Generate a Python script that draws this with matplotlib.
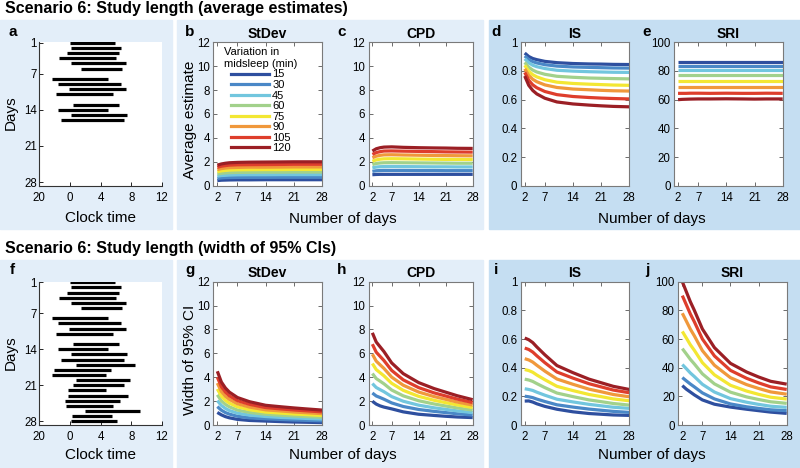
import matplotlib
matplotlib.use("Agg")
import matplotlib.pyplot as plt
from matplotlib.lines import Line2D
from matplotlib.patches import Rectangle

plt.rcParams['font.family'] = ['Liberation Sans', 'DejaVu Sans']

W, H = 800, 468

# sleep episodes, hours relative to midnight (days 7 and 12 missing)
sleep_day = [1, 2, 3, 4, 5, 6, 8, 9, 10, 11, 13, 14, 15, 16, 17, 18, 19, 20,
             21, 22, 23, 24, 25, 26, 27, 28]
sleep_on = [0.0, 0.2, -0.4, -1.4, 0.1, 1.4, -2.25, -1.5, -0.15, -1.85, 0.4, -1.5,
            0.1, -1.2, 0.8, -2.1, -2.35, 0.75, 0.45, -0.2, -0.25, -0.6, -0.45,
            2.0, 0.3, 0.15]
sleep_off = [5.9, 6.7, 6.45, 6.0, 7.3, 6.85, 4.95, 6.65, 7.3, 5.65, 6.4, 4.95,
             7.5, 7.0, 8.55, 5.4, 4.7, 7.85, 7.05, 4.75, 7.55, 6.6, 5.65, 9.15,
             5.5, 6.2]

variation = [15, 30, 45, 60, 75, 90, 105, 120]
line_colors = ['#2e4f9f', '#4a88c7', '#72c6de', '#a2d18b',
               '#f3e733', '#f0983b', '#de3e2c', '#9b1f25']

n_days = [2, 3, 4, 5, 7, 10, 14, 18, 21, 24, 28]

# average estimates
stdev_avg = [
    [0.43, 0.46, 0.47, 0.48, 0.49, 0.49, 0.50, 0.50, 0.50, 0.50, 0.50],
    [0.61, 0.65, 0.67, 0.68, 0.69, 0.70, 0.70, 0.71, 0.71, 0.71, 0.71],
    [0.80, 0.85, 0.87, 0.89, 0.91, 0.92, 0.92, 0.93, 0.93, 0.93, 0.93],
    [0.98, 1.04, 1.07, 1.09, 1.11, 1.12, 1.13, 1.13, 1.14, 1.14, 1.14],
    [1.17, 1.24, 1.28, 1.31, 1.33, 1.34, 1.35, 1.35, 1.36, 1.36, 1.36],
    [1.35, 1.43, 1.48, 1.51, 1.53, 1.55, 1.55, 1.56, 1.57, 1.57, 1.57],
    [1.54, 1.63, 1.68, 1.72, 1.75, 1.76, 1.77, 1.78, 1.79, 1.79, 1.79],
    [1.72, 1.82, 1.88, 1.92, 1.95, 1.97, 1.98, 1.99, 2.00, 2.00, 2.00],
]
cpd_avg = [
    [0.92, 0.94, 0.95, 0.95, 0.95, 0.95, 0.95, 0.95, 0.95, 0.95, 0.95],
    [1.20, 1.25, 1.27, 1.28, 1.28, 1.28, 1.27, 1.27, 1.26, 1.26, 1.26],
    [1.49, 1.56, 1.59, 1.60, 1.61, 1.60, 1.59, 1.58, 1.58, 1.57, 1.57],
    [1.77, 1.86, 1.90, 1.92, 1.93, 1.92, 1.91, 1.90, 1.89, 1.88, 1.88],
    [2.05, 2.16, 2.22, 2.25, 2.26, 2.25, 2.23, 2.21, 2.20, 2.20, 2.19],
    [2.34, 2.47, 2.54, 2.58, 2.59, 2.57, 2.55, 2.53, 2.52, 2.51, 2.50],
    [2.62, 2.77, 2.85, 2.90, 2.91, 2.89, 2.87, 2.85, 2.83, 2.82, 2.81],
    [2.90, 3.09, 3.18, 3.23, 3.25, 3.21, 3.18, 3.16, 3.15, 3.13, 3.12],
]
is_avg = [
    [0.925, 0.901, 0.887, 0.879, 0.867, 0.858, 0.852, 0.849, 0.848, 0.846, 0.845],
    [0.905, 0.880, 0.865, 0.856, 0.844, 0.834, 0.828, 0.825, 0.823, 0.821, 0.820],
    [0.885, 0.857, 0.840, 0.830, 0.817, 0.805, 0.799, 0.795, 0.793, 0.791, 0.790],
    [0.860, 0.826, 0.806, 0.793, 0.777, 0.763, 0.756, 0.751, 0.749, 0.747, 0.745],
    [0.840, 0.798, 0.774, 0.759, 0.739, 0.722, 0.713, 0.708, 0.705, 0.702, 0.700],
    [0.815, 0.769, 0.742, 0.725, 0.703, 0.685, 0.674, 0.669, 0.665, 0.662, 0.660],
    [0.790, 0.735, 0.703, 0.683, 0.657, 0.635, 0.622, 0.615, 0.611, 0.608, 0.605],
    [0.765, 0.700, 0.664, 0.640, 0.610, 0.584, 0.570, 0.562, 0.557, 0.553, 0.550],
]
sri_avg = [
    [86.5, 86.5, 86.5, 86.5, 86.5, 86.5, 86.5, 86.5, 86.5, 86.5, 86.5],
    [83.7, 83.7, 83.7, 83.7, 83.7, 83.7, 83.7, 83.7, 83.7, 83.7, 83.7],
    [80.5, 80.5, 80.5, 80.5, 80.5, 80.5, 80.5, 80.5, 80.5, 80.5, 80.5],
    [77.2, 77.2, 77.2, 77.2, 77.2, 77.2, 77.2, 77.2, 77.2, 77.2, 77.2],
    [73.2, 73.2, 73.2, 73.2, 73.2, 73.2, 73.2, 73.2, 73.2, 73.2, 73.2],
    [68.6, 68.6, 68.6, 68.6, 68.6, 68.6, 68.6, 68.6, 68.6, 68.6, 68.6],
    [64.4, 64.4, 64.4, 64.5, 64.5, 64.4, 64.5, 64.4, 64.4, 64.5, 64.4],
    [60.0, 60.2, 60.3, 60.4, 60.5, 60.5, 60.6, 60.5, 60.4, 60.5, 60.5],
]

# width of 95% CIs
stdev_ci = [
    [1.05, 0.85, 0.70, 0.60, 0.47, 0.38, 0.33, 0.28, 0.25, 0.23, 0.20],
    [1.54, 1.24, 1.04, 0.91, 0.73, 0.60, 0.52, 0.46, 0.42, 0.39, 0.35],
    [2.04, 1.64, 1.39, 1.21, 0.99, 0.83, 0.71, 0.63, 0.59, 0.55, 0.50],
    [2.53, 2.03, 1.73, 1.52, 1.25, 1.05, 0.90, 0.81, 0.76, 0.71, 0.65],
    [3.02, 2.42, 2.07, 1.83, 1.52, 1.28, 1.08, 0.99, 0.92, 0.87, 0.80],
    [3.51, 2.81, 2.41, 2.14, 1.78, 1.50, 1.27, 1.17, 1.09, 1.03, 0.95],
    [4.01, 3.21, 2.76, 2.44, 2.04, 1.73, 1.46, 1.34, 1.26, 1.19, 1.10],
    [4.50, 3.60, 3.10, 2.75, 2.30, 1.95, 1.65, 1.52, 1.43, 1.35, 1.25],
]
cpd_ci = [
    [1.99, 1.75, 1.60, 1.50, 1.35, 1.10, 0.90, 0.80, 0.73, 0.67, 0.62],
    [2.68, 2.43, 2.30, 2.16, 1.85, 1.55, 1.30, 1.14, 1.04, 0.94, 0.83],
    [3.47, 3.14, 2.96, 2.79, 2.38, 1.99, 1.66, 1.44, 1.31, 1.18, 1.04],
    [4.31, 3.89, 3.67, 3.45, 2.93, 2.44, 2.03, 1.76, 1.59, 1.43, 1.25],
    [5.15, 4.64, 4.38, 4.12, 3.49, 2.90, 2.40, 2.07, 1.87, 1.68, 1.46],
    [5.93, 5.35, 5.04, 4.74, 4.01, 3.33, 2.76, 2.38, 2.15, 1.92, 1.67],
    [6.77, 6.10, 5.75, 5.40, 4.57, 3.78, 3.13, 2.69, 2.43, 2.17, 1.88],
    [7.72, 6.95, 6.55, 6.15, 5.20, 4.30, 3.55, 3.05, 2.75, 2.45, 2.12],
]
is_ci = [
    [0.167, 0.168, 0.160, 0.148, 0.130, 0.110, 0.092, 0.080, 0.075, 0.070, 0.067],
    [0.201, 0.197, 0.191, 0.181, 0.164, 0.141, 0.125, 0.111, 0.103, 0.095, 0.088],
    [0.253, 0.248, 0.241, 0.229, 0.208, 0.180, 0.161, 0.144, 0.134, 0.124, 0.116],
    [0.320, 0.314, 0.304, 0.289, 0.261, 0.223, 0.198, 0.175, 0.163, 0.150, 0.139],
    [0.387, 0.380, 0.368, 0.349, 0.316, 0.270, 0.240, 0.213, 0.198, 0.182, 0.169],
    [0.463, 0.454, 0.439, 0.417, 0.376, 0.321, 0.284, 0.250, 0.232, 0.213, 0.197],
    [0.537, 0.527, 0.509, 0.483, 0.435, 0.370, 0.327, 0.288, 0.266, 0.244, 0.225],
    [0.607, 0.595, 0.575, 0.545, 0.490, 0.415, 0.365, 0.320, 0.295, 0.270, 0.248],
]
sri_ci = [
    [27.5, 25.0, 23.0, 21.0, 17.5, 14.5, 12.5, 11.0, 10.0, 9.0, 8.1],
    [33.1, 30.8, 28.6, 26.6, 22.4, 18.2, 14.7, 12.7, 11.6, 10.6, 10.0],
    [42.2, 39.3, 36.3, 33.8, 28.4, 23.0, 18.4, 15.9, 14.4, 13.1, 12.3],
    [53.3, 49.6, 45.8, 42.6, 35.7, 28.7, 22.9, 19.6, 17.8, 16.2, 15.1],
    [65.3, 60.7, 56.0, 52.1, 43.5, 35.0, 27.7, 23.7, 21.4, 19.4, 18.1],
    [78.0, 72.5, 66.9, 62.2, 51.9, 41.7, 33.0, 28.2, 25.5, 23.1, 21.5],
    [90.3, 83.9, 77.5, 72.0, 60.0, 48.2, 38.1, 32.6, 29.4, 26.6, 24.8],
    [100.0, 93.0, 86.0, 80.0, 67.0, 54.0, 43.0, 37.0, 33.5, 30.5, 28.5],
]

light_bg = '#e3eef9'
dark_bg = '#c5def2'
box_grey = '#7a7a7a'

fig = plt.figure(figsize=(W / 100, H / 100), dpi=100)


def px_axes(l, t, r, b):
    return fig.add_axes([l / W, 1 - b / H, (r - l) / W, (b - t) / H])


def px_text(x, y, s, **kw):
    fig.text(x / W, 1 - y / H, s, **kw)


def px_rect(l, t, r, b, color):
    fig.add_artist(Rectangle((l / W, 1 - b / H), (r - l) / W, (b - t) / H,
                             transform=fig.transFigure, color=color, zorder=-5))


# coloured panel backgrounds
for top, bot in [(20, 228.5), (260, 468)]:
    px_rect(0, top, 172, bot, light_bg)
    px_rect(177, top, 483, bot, light_bg)
    px_rect(489, top, 800, bot, dark_bg)


def sleep_panel(ax, n):
    ax.hlines(sleep_day[:n], sleep_on[:n], sleep_off[:n], color='k', lw=2.3)
    ax.set_xlim(-4, 12)
    ax.set_xticks([-4, 0, 4, 8, 12])
    ax.set_xticklabels(['20', '0', '4', '8', '12'])
    ax.set_ylim(28.7, 0.9)
    ax.set_yticks([1, 7, 14, 21, 28])
    for s in ['top', 'right']:
        ax.spines[s].set_visible(False)
    for s in ['left', 'bottom']:
        ax.spines[s].set_color('#333333')
        ax.spines[s].set_linewidth(0.8)
    ax.tick_params(direction='in', length=3, width=0.6, labelsize=8.3)
    ax.tick_params(axis='x', pad=4.5)
    ax.tick_params(axis='y', pad=1.5)


def curve_panel(ax, series, ylim, yticks):
    for vals, col in zip(series, line_colors):
        ax.plot(n_days, vals, color=col, lw=2.3, solid_capstyle='butt')
    ax.set_xlim(1, 28)
    ax.set_xticks([2, 7, 14, 21, 28])
    ax.set_ylim(*ylim)
    ax.set_yticks(yticks)
    ax.yaxis.set_major_formatter(lambda v, p: f'{v:g}')
    ax.tick_params(direction='in', length=3, width=0.6, color='#555555',
                   labelsize=8.3, top=True, right=True)
    ax.tick_params(axis='x', pad=4.5)
    ax.tick_params(axis='y', pad=2.5)
    for s in ax.spines.values():
        s.set_color(box_grey)
        s.set_linewidth(0.8)


rows = [
    (42.3, 185.7, 14, [stdev_avg, cpd_avg, is_avg, sri_avg]),
    (281.7, 425.0, 28, [stdev_ci, cpd_ci, is_ci, sri_ci]),
]
col_x = [(213.3, 322.0), (368.5, 472.7), (520.7, 629.3)]
last_x = [(674.0, 782.7), (678.3, 786.7)]
limits = [((0, 12), range(0, 13, 2)), ((0, 12), range(0, 13, 2)),
          ((0, 1), [0, 0.2, 0.4, 0.6, 0.8, 1]), ((0, 100), range(0, 101, 20))]

axes_rows = []
for r, (top, bot, nsleep, data) in enumerate(rows):
    ax0 = px_axes(39, top, 162, bot)
    sleep_panel(ax0, nsleep)
    row = [ax0]
    for k in range(4):
        l, rr = col_x[k] if k < 3 else last_x[r]
        ax = px_axes(l, top, rr, bot)
        curve_panel(ax, data[k], *limits[k])
        row.append(ax)
    axes_rows.append(row)

# legend in StDev panel
handles = [Line2D([], [], color=c, lw=2.3) for c in line_colors]
leg = axes_rows[0][1].legend(handles, [str(v) for v in variation],
                             title='Variation in\nmidsleep (min)',
                             loc='upper left', bbox_to_anchor=(0.1, 0.965),
                             frameon=False, fontsize=8, title_fontsize=8,
                             handlelength=3.4, handletextpad=0.3,
                             labelspacing=0.05, borderpad=0, borderaxespad=0)

# figure texts
px_text(5, 13.5, 'Scenario 6: Study length (average estimates)',
        fontsize=11.5, fontweight='bold', va='baseline')
px_text(5, 253.5, 'Scenario 6: Study length (width of 95% CIs)',
        fontsize=11.5, fontweight='bold', va='baseline')

titles = ['StDev', 'CPD', 'IS', 'SRI']
centers = [(213.3 + 322.0) / 2, (368.5 + 472.7) / 2, (520.7 + 629.3) / 2]
for r, (tb, lb) in enumerate([(38, 36.5), (277, 274)]):
    cs = centers + [sum(last_x[r]) / 2]
    for t, c in zip(titles, cs):
        px_text(c, tb, t, fontsize=10, fontweight='bold', ha='center', va='baseline')
    letters = 'abcde' if r == 0 else 'fghij'
    lx = [12.5, 189.5, 341.5, 496.5, 647]
    for s, x in zip(letters, lx):
        px_text(x, lb, s, fontsize=11, fontweight='bold', ha='center', va='baseline')

for yb, ymid, ylab in [(222.5, 113, 'Average estimate'), (459, 353, 'Width of 95% CI')]:
    px_text(100.5, yb, 'Clock time', fontsize=11, ha='center', va='baseline')
    px_text(343, yb, 'Number of days', fontsize=11, ha='center', va='baseline')
    px_text(652, yb, 'Number of days', fontsize=11, ha='center', va='baseline')
    px_text(11, ymid, 'Days', fontsize=11, ha='center', va='center', rotation=90)
    px_text(190, ymid + 7, ylab, fontsize=11, ha='center', va='center', rotation=90)

fig.savefig('out.png', dpi=100)
